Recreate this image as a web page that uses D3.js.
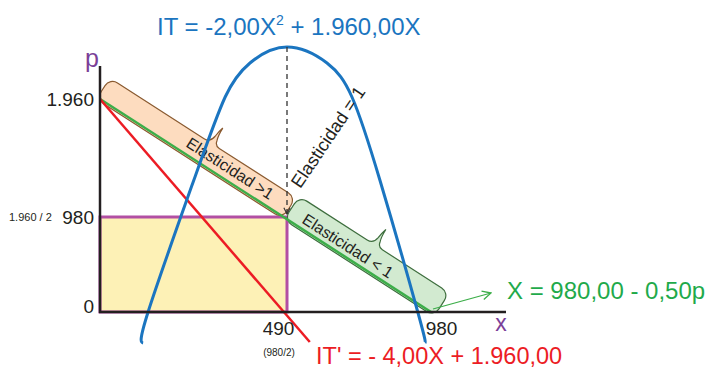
<!DOCTYPE html>
<html>
<head>
<meta charset="utf-8">
<script src="https://cdn.jsdelivr.net/npm/d3@7"></script>
<style>
  body { margin: 0; background: #fff; }
  svg { display: block; font-family: "Liberation Sans", Arial, sans-serif; }
</style>
</head>
<body>
<svg id="chart"></svg>
<script>
// values
var priceTicks = [0, 980, 1960];
var priceLabels = ["0", "980", "1.960"];
var qtyTicks = [490, 980];
var qtyLabels = ["490", "980"];
var demandQ = [0, 980];
var demandP = [1960, 0];
var marginalQ = [0, 567.5];
var marginalIT = [1960, -310];
var revenueQ = [113, 126, 246, 328, 393, 490, 626, 711, 806, 935, 960];
var revenueIT = [-56000, 0, 239200, 389600, 451200, 480200, 451200, 389600, 239200, 0, -56000];
var midQ = 490, midP = 980, maxIT = 480200;

var blue = "#1b75c0", red = "#ec1c24", green = "#3cae49", purple = "#b24fa3";

var svg = d3.select("#chart").attr("width", 706).attr("height", 369);

// the drawing is not to scale, so the scales are piecewise
var x = d3.scaleLinear().domain([0, 490, 980]).range([100, 287, 431]);
var y = d3.scaleLinear().domain([0, 980, 1960]).range([312, 217, 99]);
var yIT = d3.scaleLinear().domain([0, maxIT]).range([312, 47]);

var defs = svg.append("defs");
defs.append("marker").attr("id", "arrGreen")
  .attr("viewBox", "0 0 10 10").attr("refX", 9).attr("refY", 5)
  .attr("markerWidth", 9).attr("markerHeight", 9).attr("orient", "auto")
  .append("path").attr("d", "M1,1 L9,5 L1,9")
  .attr("fill", "none").attr("stroke", green).attr("stroke-width", 1.2);
defs.append("marker").attr("id", "arrDash")
  .attr("viewBox", "0 0 10 10").attr("refX", 9).attr("refY", 5)
  .attr("markerWidth", 6).attr("markerHeight", 6).attr("orient", "auto")
  .append("path").attr("d", "M1,1 L9,5 L1,9")
  .attr("fill", "none").attr("stroke", "#333").attr("stroke-width", 1.5);

// yellow revenue rectangle
svg.append("rect")
  .attr("x", x(0)).attr("y", y(midP))
  .attr("width", x(midQ) - x(0)).attr("height", y(0) - y(midP))
  .attr("fill", "#fdf1b6").attr("stroke", purple).attr("stroke-width", 3);

// elasticity bands along the demand line
var x0 = x(demandQ[0]), y0 = y(demandP[0]);
var ang = Math.atan2(y(demandP[1]) - y0, x(demandQ[1]) - x0) * 180 / Math.PI;
var sMid = Math.hypot(x(midQ) - x0, y(midP) - y0);
var sEnd = Math.hypot(x(demandQ[1]) - x0, y(demandP[1]) - y0);

function bandPath(s0, s1, n0, n1, b, r) {
  return "M" + (s0 + r) + "," + n0 +
    " L" + (b - 9) + "," + n0 +
    " Q" + (b - 2) + "," + n0 + " " + (b - 1) + "," + (n0 - 8) +
    " Q" + (b - 0.5) + "," + (n0 - 14) + " " + (b + 1) + "," + (n0 - 19) +
    " Q" + (b + 1) + "," + (n0 - 10) + " " + (b + 3) + "," + (n0 - 5) +
    " Q" + (b + 4) + "," + n0 + " " + (b + 9) + "," + n0 +
    " L" + (s1 - r) + "," + n0 +
    " A" + r + "," + r + " 0 0 1 " + s1 + "," + (n0 + r) +
    " L" + s1 + "," + (n1 - r) +
    " A" + r + "," + r + " 0 0 1 " + (s1 - r) + "," + n1 +
    " L" + (s0 + r) + "," + n1 +
    " A" + r + "," + r + " 0 0 1 " + s0 + "," + (n1 - r) +
    " L" + s0 + "," + (n0 + r) +
    " A" + r + "," + r + " 0 0 1 " + (s0 + r) + "," + n0 + " Z";
}

var bands = svg.append("g")
  .attr("transform", "translate(" + x0 + "," + y0 + ") rotate(" + ang + ")");

bands.append("path")
  .attr("d", bandPath(-3, sMid - 3, -23, 2, 118, 9))
  .attr("fill", "#fddcbf").attr("stroke", "#8a5a30").attr("stroke-width", 1.2);
bands.append("text")
  .attr("x", 147).attr("y", -6.5).attr("text-anchor", "middle")
  .attr("font-size", 16).attr("fill", "#231f20")
  .text("Elasticidad >1");

bands.append("path")
  .attr("d", bandPath(sMid - 1, sEnd + 5, -26, 2, 310, 9))
  .attr("fill", "#d2ead0").attr("stroke", "#3e6e3e").attr("stroke-width", 1.2);
bands.append("text")
  .attr("x", 288).attr("y", -5).attr("text-anchor", "middle")
  .attr("font-size", 16).attr("fill", "#231f20")
  .text("Elasticidad < 1");

// demand line
svg.append("path")
  .datum(d3.zip(demandQ, demandP))
  .attr("d", d3.line().x(function (d) { return x(d[0]); }).y(function (d) { return y(d[1]); }))
  .attr("fill", "none").attr("stroke", green).attr("stroke-width", 2.5);

// marginal revenue
svg.append("path")
  .datum(d3.zip(marginalQ, marginalIT))
  .attr("d", d3.line().x(function (d) { return x(d[0]); }).y(function (d) { return y(d[1]); }))
  .attr("fill", "none").attr("stroke", red).attr("stroke-width", 2.5);

// total revenue
svg.append("path")
  .datum(d3.zip(revenueQ, revenueIT))
  .attr("d", d3.line().curve(d3.curveNatural)
    .x(function (d) { return x(d[0]); }).y(function (d) { return yIT(d[1]); }))
  .attr("fill", "none").attr("stroke", blue).attr("stroke-width", 3);

// dashed line from the top of IT to the demand line
svg.append("line")
  .attr("x1", x(midQ)).attr("y1", yIT(maxIT))
  .attr("x2", x(midQ)).attr("y2", y(midP) - 3)
  .attr("stroke", "#333").attr("stroke-width", 1.3)
  .attr("stroke-dasharray", "5,4").attr("marker-end", "url(#arrDash)");

svg.append("text")
  .attr("transform", "translate(328,137) rotate(-56)")
  .attr("text-anchor", "middle").attr("dy", "0.35em")
  .attr("font-size", 18).attr("fill", "#231f20")
  .text("Elasticidad = 1");

// axes
svg.append("line").attr("x1", 100).attr("y1", 66).attr("x2", 100).attr("y2", 313)
  .attr("stroke", "#231f20").attr("stroke-width", 2.5);
svg.append("line").attr("x1", 99).attr("y1", 312).attr("x2", 506).attr("y2", 312)
  .attr("stroke", "#231f20").attr("stroke-width", 2.5);

var yAxis = svg.append("g")
  .attr("transform", "translate(100,0)")
  .call(d3.axisLeft(y).tickValues(priceTicks)
    .tickFormat(function (d, i) { return priceLabels[i]; })
    .tickSize(0).tickPadding(6));
yAxis.select(".domain").remove();
yAxis.selectAll("text")
  .attr("font-size", 19).attr("font-family", "Liberation Sans, Arial, sans-serif")
  .attr("fill", "#231f20")
  .attr("dy", function (d) { return d === 0 ? "0em" : "0.32em"; });

var xAxis = svg.append("g")
  .attr("transform", "translate(0,312)")
  .call(d3.axisBottom(x).tickValues(qtyTicks)
    .tickFormat(function (d, i) { return qtyLabels[i]; })
    .tickSize(0).tickPadding(10));
xAxis.select(".domain").remove();
xAxis.selectAll("text")
  .attr("font-size", 19).attr("font-family", "Liberation Sans, Arial, sans-serif")
  .attr("fill", "#231f20")
  .attr("dx", function (d) { return d === 490 ? -9 : 10; });

svg.append("text").attr("x", 9).attr("y", y(midP)).attr("dy", "0.32em")
  .attr("font-size", 11).attr("fill", "#231f20").text("1.960 / 2");
svg.append("text").attr("x", x(midQ) - 8).attr("y", 356).attr("text-anchor", "middle")
  .attr("font-size", 10).attr("fill", "#231f20").text("(980/2)");

svg.append("text").attr("x", 92).attr("y", 67).attr("text-anchor", "middle")
  .attr("font-size", 25).attr("fill", "#7b3f98").text("p");
svg.append("text").attr("x", 501).attr("y", 331).attr("text-anchor", "middle")
  .attr("font-size", 23).attr("fill", "#7b3f98").text("x");

// equations
var title = svg.append("text").attr("x", 157).attr("y", 35)
  .attr("font-size", 24).attr("fill", blue);
title.append("tspan").text("IT = -2,00X");
title.append("tspan").attr("font-size", 14).attr("dy", -10).text("2");
title.append("tspan").attr("dy", 10).text(" + 1.960,00X");

svg.append("text").attr("x", 316).attr("y", 364)
  .attr("font-size", 23.5).attr("fill", red)
  .text("IT' = - 4,00X + 1.960,00");

svg.append("line")
  .attr("x1", x(980) + 2).attr("y1", y(0) - 3)
  .attr("x2", 491).attr("y2", 293)
  .attr("stroke", green).attr("stroke-width", 1.2)
  .attr("marker-end", "url(#arrGreen)");
svg.append("text").attr("x", 507).attr("y", 299)
  .attr("font-size", 24).attr("fill", "#1faa4b")
  .text("X = 980,00 - 0,50p");
</script>
</body>
</html>
